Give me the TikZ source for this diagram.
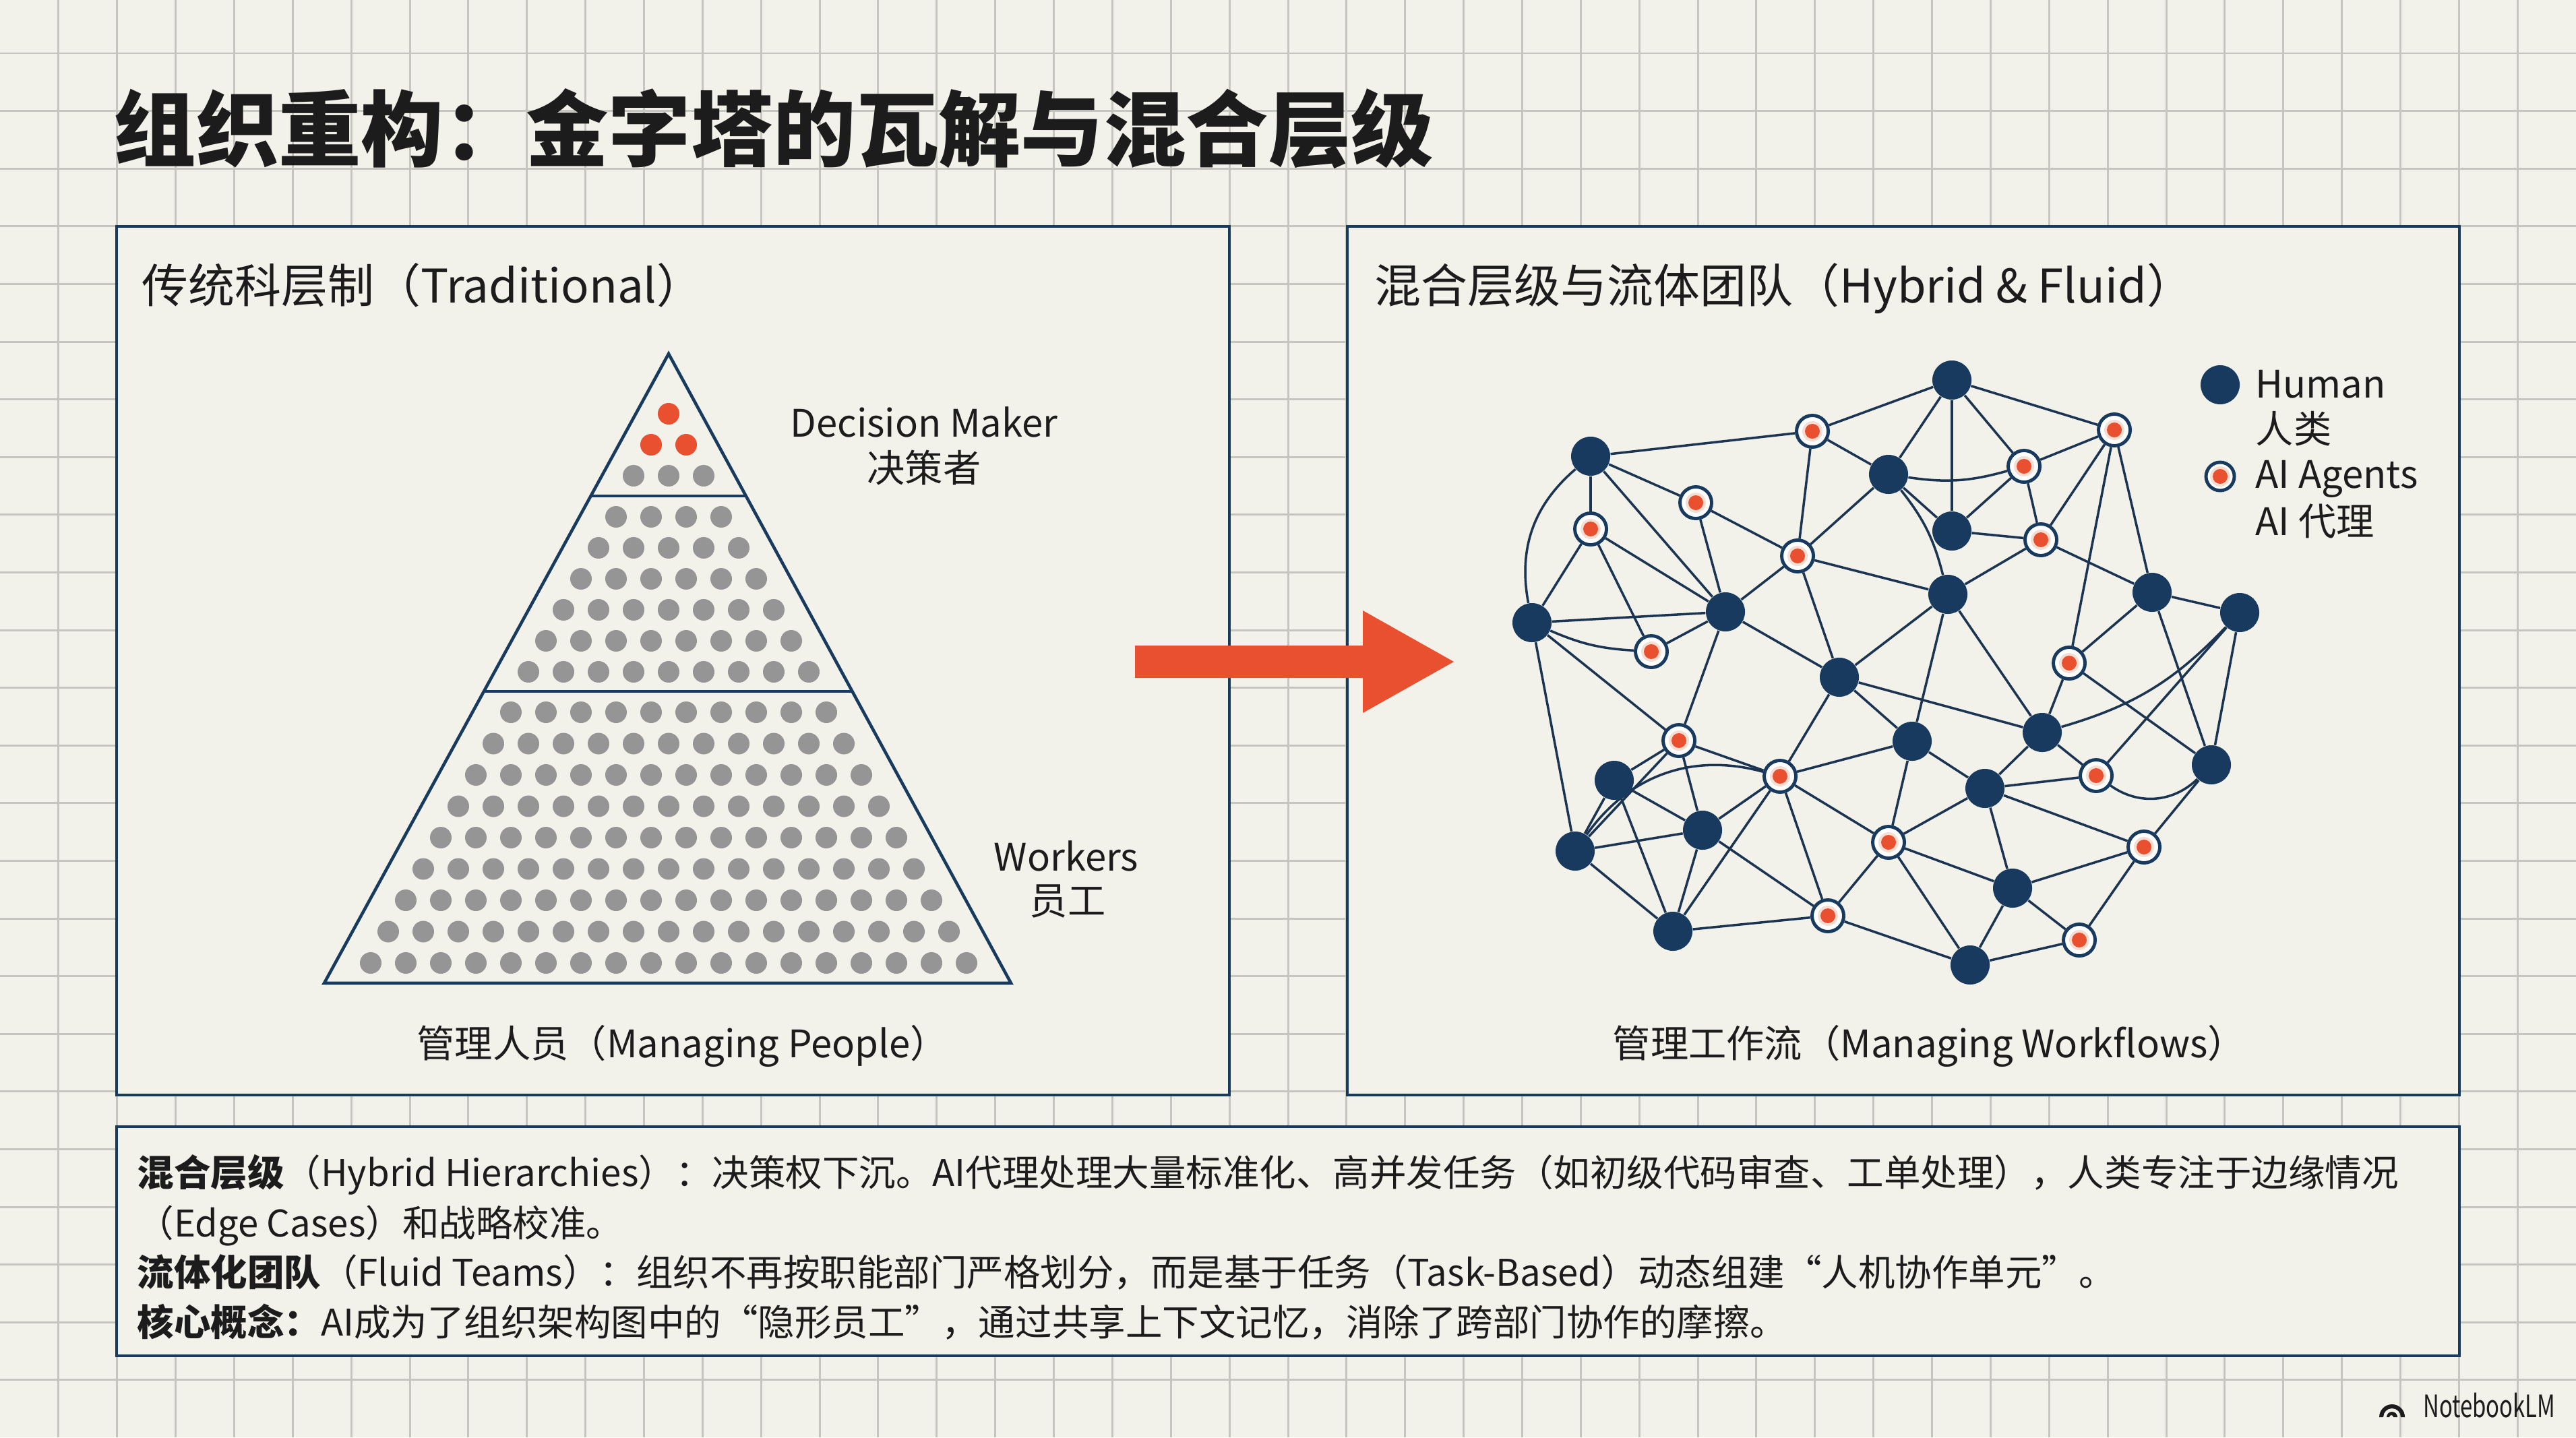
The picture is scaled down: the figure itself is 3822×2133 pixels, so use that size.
\documentclass[tikz,border=0pt]{standalone}
\usepackage{fontspec}
\setmainfont{Noto Sans CJK SC}
\pgfdeclarelayer{back}
\pgfdeclarelayer{mid}
\pgfsetlayers{back,mid,main}
\definecolor{bgc}{HTML}{F2F1EA}
\definecolor{gridc}{HTML}{C6C6C1}
\definecolor{navy}{HTML}{173A5E}
\definecolor{edgec}{HTML}{1A3452}
\definecolor{aor}{HTML}{E9502F}
\definecolor{halo}{HTML}{F7DED3}
\definecolor{dotg}{HTML}{959595}
\definecolor{txt}{HTML}{1C1C1C}
\newcommand\TitleFont{\fontsize{34.8pt}{40pt}\selectfont\bfseries}
\newcommand\HeadFont{\fontsize{19.6pt}{23pt}\selectfont}
\newcommand\LabFont{\fontsize{16pt}{19pt}\selectfont}
\newcommand\BodyFont{\fontsize{15.5pt}{19pt}\selectfont}
\newcommand\MarkFont{\fontsize{13pt}{15pt}\selectfont}
\tikzset{
  gridln/.style={draw=gridc, line width=0.85pt},
  panel/.style={draw=navy, line width=1.3pt, fill=bgc},
  tri/.style={draw=navy, line width=1.3pt},
  human/.style={circle, fill=navy, minimum size=0.58cm, inner sep=0pt},
  ai/.style={circle, fill=white, draw=navy, line width=1.4pt, minimum size=0.47cm, inner sep=0pt,
    path picture={\fill[halo] (path picture bounding box.center) circle (0.15cm);
                  \fill[aor] (path picture bounding box.center) circle (0.11cm);}},
  link/.style={draw=edgec, line width=1pt},
  lab/.style={inner sep=0pt, text=txt, font=\LabFont},
  body/.style={inner sep=0pt, text=txt, font=\BodyFont, anchor=base west},
  head/.style={inner sep=0pt, text=txt, font=\HeadFont, anchor=base west},
}
\begin{document}
\begin{tikzpicture}[x=0.01cm,y=-0.01cm]
\useasboundingbox (0,0) rectangle (3822,2133);
\begin{pgfonlayer}{back}
\fill[bgc] (0,0) rectangle (3822,2133);
\foreach \i in {1,...,43} \draw[gridln] ({\i*86.864},0) -- ({\i*86.864},2133);
\foreach \j in {0,...,23} \draw[gridln] (0,{79+\j*85.6}) -- (3822,{79+\j*85.6});
\draw[panel] (173,336) rectangle (1824,1625);
\draw[panel] (1999,336) rectangle (3649,1625);
\draw[panel] (173,1672) rectangle (3649,2012);
\end{pgfonlayer}

% title
\node[anchor=base west, inner sep=0pt, text=txt, font=\TitleFont] (title) at (168,237) {组织重构：金字塔的瓦解与混合层级};

% headers
\node[head] (hl) at (210,449) {传统科层制（Traditional）};
\node[head] (hr) at (2039,449) {混合层级与流体团队（Hybrid \& Fluid）};

% pyramid
\draw[tri] (992,525) -- (1500,1459) -- (481,1459) -- cycle;
\draw[tri] (877,736) -- (1107,736);
\draw[tri] (719,1026) -- (1265,1026);
\fill[aor] (992,614) circle (0.16cm);
\fill[aor] (966,660) circle (0.16cm);
\fill[aor] (1018,660) circle (0.16cm);
\foreach \n/\yy in {3/706,4/767,5/813,6/859,7/905,8/951,9/997,10/1057,11/1103.5,12/1150,13/1196.5,14/1243,15/1289.5,16/1336,17/1382.5,18/1429}{
  \foreach \i in {1,...,\n}{
    \fill[dotg] ({992+(\i-(\n+1)/2)*52},\yy) circle (0.16cm);
  }
}
\node[lab, anchor=base] (dm) at (1371,648) {Decision Maker};
\node[lab, anchor=base] (dmc) at (1371,715) {决策者};
\node[lab, anchor=base] (wk) at (1582,1292) {Workers};
\node[lab, anchor=base] (wkc) at (1584,1357) {员工};
\node[lab, anchor=base west] (mp) at (618,1569) {管理人员（Managing People）};

% arrow
\fill[aor] (1684,958) -- (2022,958) -- (2022,906) -- (2157,982) -- (2022,1058) -- (2022,1006) -- (1684,1006) -- cycle;

% network nodes
\node[human] (H1) at (2896,564) {};
\node[human] (H2) at (2360,677) {};
\node[human] (H3) at (2802,704) {};
\node[human] (H4) at (2896,788) {};
\node[human] (H5) at (2273,924) {};
\node[human] (H6) at (2560,908) {};
\node[human] (H7) at (2890,882) {};
\node[human] (H8) at (3193,879) {};
\node[human] (H9) at (3323,909) {};
\node[human] (H10) at (2729,1005) {};
\node[human] (H11) at (2837,1100) {};
\node[human] (H12) at (3030,1087) {};
\node[human] (H13) at (3281,1135) {};
\node[human] (H14) at (2395,1158) {};
\node[human] (H15) at (2945,1170) {};
\node[human] (H16) at (2526,1232) {};
\node[human] (H17) at (2337,1263) {};
\node[human] (H18) at (2986,1318) {};
\node[human] (H19) at (2482,1382) {};
\node[human] (H20) at (2923,1432) {};
\node[ai] (A1) at (2689,640) {};
\node[ai] (A2) at (3137,638) {};
\node[ai] (A3) at (3003,692) {};
\node[ai] (A4) at (2516,746) {};
\node[ai] (A5) at (2360,785) {};
\node[ai] (A6) at (2667,825) {};
\node[ai] (A7) at (3028,801) {};
\node[ai] (A8) at (2450,967) {};
\node[ai] (A9) at (3070,984) {};
\node[ai] (A10) at (2491,1099) {};
\node[ai] (A11) at (2641,1152) {};
\node[ai] (A12) at (3110,1151) {};
\node[ai] (A13) at (2802,1250) {};
\node[ai] (A14) at (3181,1257) {};
\node[ai] (A15) at (2712,1359) {};
\node[ai] (A16) at (3085,1395) {};

\begin{pgfonlayer}{mid}
\foreach \a/\b in {H2/A1,A1/H1,A1/H3,A1/A6,H3/A6,A6/H7,A6/H10,A6/H6,A4/A6,H2/A4,H2/A5,H2/H6,
  A5/H5,A5/H6,A5/A8,A4/H6,H5/H6,H5/A10,H5/H17,A8/H6,H6/A10,H6/H10,H10/H7,
  H1/H3,H1/H4,H1/A3,H1/A2,H3/H4,A3/H4,A3/A2,A3/A7,A2/A7,A2/A9,A2/H8,H4/A7,A7/H7,A7/H8,
  H7/H11,H7/H12,H8/H9,H8/A9,H8/H13,A9/H12,A9/H13,A12/H9,H13/H9,H10/H12,H10/H11,A11/H11,
  H11/H15,H11/A13,H12/H15,H12/A12,H15/A12,H15/A13,H15/A14,H15/H18,H13/A14,A13/H18,A13/H20,
  A14/H18,A14/A16,H18/A16,H18/H20,H20/A16,A15/H20,H10/A11,A10/A11,A10/H14,A10/H17,A10/H16,
  H14/H16,H14/H17,H14/H19,H16/A11,H16/H17,H16/H19,A11/H19,A11/A15,A11/A13,H16/A15,H17/H19,
  H19/A15,A15/A13}
  \draw[link] (\a) -- (\b);
\draw[link] (H2) to[bend right=30] (H5);
\draw[link] (H3) to[bend left=12] (H7);
\draw[link] (H3) to[bend right=12] (A3);
\draw[link] (A12) to[bend right=40] (H13);
\draw[link] (H12) to[bend right=15] (H9);
\draw[link] (H17) to[bend left=35] (A11);
\draw[link] (H5) to[bend right=10] (A8);
\end{pgfonlayer}

% legend
\node[human] (LH) at (3294,571) {};
\node[ai, minimum size=0.42cm] (LA) at (3294,707) {};
\node[lab, anchor=base west] (lh1) at (3346,590) {Human};
\node[lab, anchor=base west] (lh2) at (3346,657) {人类};
\node[lab, anchor=base west] (la1) at (3346,724) {AI Agents};
\node[lab, anchor=base west] (la2) at (3346,794) {AI 代理};

\node[lab, anchor=base west] (mw) at (2392,1569) {管理工作流（Managing Workflows）};

% bottom text
\node[body] (t1) at (203,1760) {{\bfseries 混合层级}（Hybrid Hierarchies）：决策权下沉。AI代理处理大量标准化、高并发任务（如初级代码审查、工单处理），人类专注于边缘情况};
\node[body] (t2) at (203,1835) {（Edge Cases）和战略校准。};
\node[body] (t3) at (203,1908) {{\bfseries 流体化团队}（Fluid Teams）：组织不再按职能部门严格划分，而是基于任务（Task-Based）动态组建“人机协作单元”。};
\node[body] (t4) at (203,1982) {{\bfseries 核心概念：}AI成为了组织架构图中的“隐形员工”，通过共享上下文记忆，消除了跨部门协作的摩擦。};

% watermark
\fill[txt] (3530,2103) arc[start angle=180, end angle=0, radius=0.19cm] -- (3562,2103) arc[start angle=0, end angle=180, radius=0.13cm] -- cycle;
\fill[txt] (3541,2103) arc[start angle=180, end angle=0, radius=0.08cm] -- (3551,2103) arc[start angle=0, end angle=180, radius=0.03cm] -- cycle;
\node[inner sep=0pt, anchor=base east, text=txt, font=\MarkFont, xscale=0.72] (wm) at (3792,2103) {NotebookLM};
\end{tikzpicture}
\end{document}
